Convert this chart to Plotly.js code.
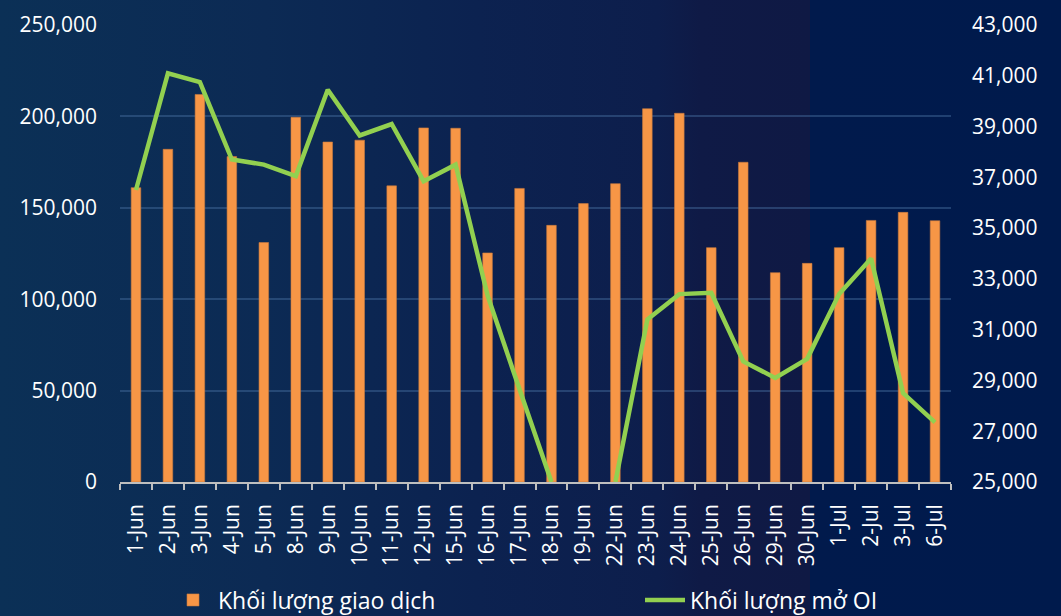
<!DOCTYPE html>
<html>
<head>
<meta charset="utf-8">
<script src="https://cdn.plot.ly/plotly-3.0.1.min.js"></script>
<style>
  html, body { margin: 0; padding: 0; }
  body {
    width: 1061px; height: 616px; overflow: hidden;
    background: linear-gradient(to right, #0b3056 0%, #0c2a54 25%, #0c2250 45%, #0d1e4c 62%, #0f1a46 66%, #0f1944 76.3%, #011a4c 76.3%, #001a4c 100%);
  }
  #chart { width: 1061px; height: 616px; }
</style>
</head>
<body>
<div id="chart"></div>
<script>
const categories = ["1-Jun","2-Jun","3-Jun","4-Jun","5-Jun","8-Jun","9-Jun","10-Jun","11-Jun","12-Jun","15-Jun","16-Jun","17-Jun","18-Jun","19-Jun","22-Jun","23-Jun","24-Jun","25-Jun","26-Jun","29-Jun","30-Jun","1-Jul","2-Jul","3-Jul","6-Jul"];
const tradingVolume = [161000,182000,212000,178000,131000,199500,186000,187000,162000,193700,193500,125300,160600,140400,152300,163200,204200,201700,128200,174900,114500,119600,128200,143100,147500,142900];
const openInterest = [36500,41100,40750,37700,37500,37050,40450,38650,39100,36850,37500,32350,28650,25000,null,25000,31400,32400,32450,29750,29100,29850,32400,33800,28500,27350];
const barName = "Khối lượng giao dịch";
const lineName = "Khối lượng mở OI";

const font = "'Open Sans', 'Noto Sans', sans-serif";

const traces = [
  {
    type: "bar",
    name: barName,
    x: categories,
    y: tradingVolume,
    marker: { color: "#F79646", line: { color: "#c97a3e", width: 0.6 } },
    width: 0.3,
    yaxis: "y",
    legend: "legend",
    hoverinfo: "x+y"
  },
  {
    type: "scatter",
    mode: "lines",
    name: lineName,
    x: categories,
    y: openInterest,
    connectgaps: false,
    line: { color: "#92D050", width: 4.5, shape: "linear" },
    yaxis: "y2",
    legend: "legend2",
    hoverinfo: "x+y"
  }
];

const legendCommon = {
  orientation: "h",
  yref: "container",
  yanchor: "middle",
  y: 0.026,
  xref: "container",
  xanchor: "left",
  font: { family: font, size: 23, color: "#ffffff" },
  bgcolor: "rgba(0,0,0,0)",
  itemwidth: 40
};

const layout = {
  width: 1061,
  height: 616,
  margin: { l: 120, r: 110, t: 25, b: 134 },
  paper_bgcolor: "rgba(0,0,0,0)",
  plot_bgcolor: "rgba(0,0,0,0)",
  font: { family: font, color: "#ffffff", size: 20 },
  showlegend: true,
  legend: Object.assign({}, legendCommon, { x: 168 / 1061 }),
  legend2: Object.assign({}, legendCommon, { x: 640 / 1061 }),
  xaxis: {
    type: "category",
    tickangle: -90,
    ticks: "outside",
    tickson: "boundaries",
    ticklen: 6,
    tickcolor: "#bfbfbf",
    tickwidth: 1.5,
    showline: true,
    linecolor: "#bfbfbf",
    linewidth: 1.5,
    showgrid: false,
    ticklabelstandoff: 12,
    tickfont: { family: font, size: 21, color: "#ffffff" },
    fixedrange: true
  },
  yaxis: {
    range: [0, 250000],
    dtick: 50000,
    tick0: 0,
    tickformat: ",d",
    showgrid: true,
    gridcolor: "rgba(70,110,160,0.45)",
    gridwidth: 1.5,
    zeroline: false,
    showline: false,
    ticks: "",
    ticklabelstandoff: 22,
    tickfont: { family: font, size: 21, color: "#ffffff" },
    fixedrange: true
  },
  yaxis2: {
    overlaying: "y",
    side: "right",
    range: [25000, 43000],
    dtick: 2000,
    tick0: 25000,
    tickformat: ",d",
    showgrid: false,
    zeroline: false,
    showline: false,
    ticks: "",
    ticklabelstandoff: 20,
    tickfont: { family: font, size: 21, color: "#ffffff" },
    fixedrange: true
  },
  bargap: 0.7
};

Plotly.newPlot("chart", traces, layout, { displayModeBar: false });
</script>
</body>
</html>
